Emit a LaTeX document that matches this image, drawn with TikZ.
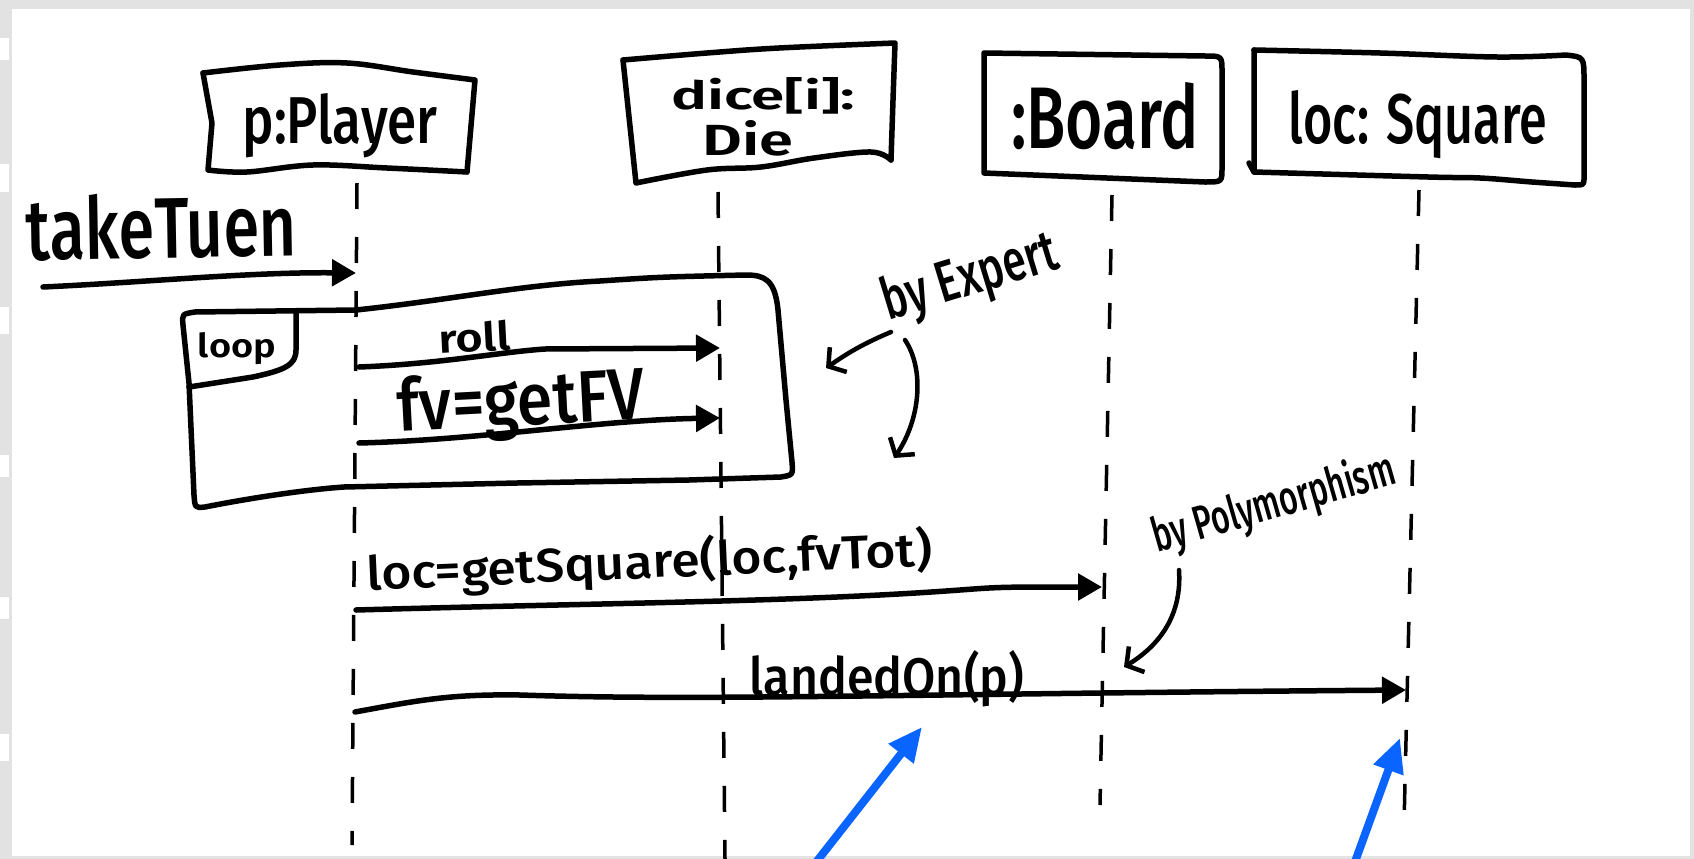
\documentclass[tikz,border=0pt]{standalone}
\usepackage{fontspec}
\usepackage{graphicx}
\usetikzlibrary{arrows.meta}
\newfontfamily\handfont{Fira Sans Medium}
\newfontfamily\handfontb{Fira Sans SemiBold}
\newcommand\hwtext[3]{\resizebox{#1pt}{#2pt}{\handfont #3}}
\newcommand\hwbold[3]{\resizebox{#1pt}{#2pt}{\handfontb #3}}
\definecolor{paperbg}{RGB}{226,226,226}
\definecolor{arrowblue}{RGB}{10,100,255}
\begin{document}
\begin{tikzpicture}[x=1pt,y=-1pt,
  hand/.style={line width=5.5pt,line cap=round,line join=round},
  msg/.style={hand,-{Triangle[length=24pt,width=26pt]}},
  notearrow/.style={line width=4.5pt,line cap=round,line join=round,-{Straight Barb[length=12pt,width=30pt]}},
  life/.style={line width=3.5pt,dash pattern=on 26pt off 28pt},
  bluearrow/.style={arrowblue,line width=8pt,-{Triangle[length=34pt,width=30pt]}},
  lbl/.style={inner sep=0pt,outer sep=0pt,anchor=base}]
\useasboundingbox (0,0) rectangle (1694,859);
% paper
\fill[paperbg] (0,0) rectangle (1694,859);
\fill[white] (12,9) rectangle (1690,856);
\foreach \ya/\yb in {38/60,164/192,307/334,455/477,597/619,734/761}
  \fill[white] (0,\ya) rectangle (9,\yb);

% lifelines
\coordinate (PLt) at (357,183); \coordinate (PLb) at (352,845);
\coordinate (DLt) at (718,192); \coordinate (DLb) at (725,859);
\coordinate (BLt) at (1112,195); \coordinate (BLb) at (1100,805);
\coordinate (SLt) at (1419,190); \coordinate (SLb) at (1404,825);
\draw[life] (PLt) -- (PLb);
\draw[life] (DLt) -- (DLb);
\draw[life] (BLt) -- (BLb);
\draw[life] (SLt) -- (SLb);

% participant boxes
\draw[hand] plot[smooth,tension=0.6] coordinates {(203,73) (280,65) (347,63) (413,72) (475,80)} -- (467,172);
\draw[hand] plot[smooth,tension=0.6] coordinates {(467,172) (387,168) (313,165) (247,172) (208,170)} -- (212,123) -- (203,73);

\draw[hand] plot[smooth,tension=0.6] coordinates {(623,60) (707,53) (779,48) (895,43)} -- (893,100) -- (891,160);
\draw[hand] plot[smooth,tension=0.6] coordinates {(891,160) (871,152) (814,158) (761,167) (707,170) (636,183)} -- (623,60);

\draw[hand] (984,53) -- (1205,56) .. controls (1222,56) .. (1222,72) -- (1222,168) .. controls (1222,182) .. (1205,182) -- (984,173) -- cycle;

\draw[hand] plot[smooth,tension=0.6] coordinates {(1254,50) (1380,53) (1497,57) (1566,55)} .. controls (1584,57) .. (1584,80) -- (1584,177) .. controls (1584,185) .. (1575,185);
\draw[hand] plot[smooth,tension=0.6] coordinates {(1575,185) (1532,182) (1480,178) (1428,177) (1254,172)} -- (1254,50);
\draw[hand] (1254,172) -- (1249,163);

\node[lbl] (player) at (340,143) {\hwtext{195}{50}{p:Player}};
\node[lbl] (dice) at (763,110) {\hwbold{184}{32}{dice[i]:}};
\node[lbl] (die) at (748,155) {\hwbold{91}{35}{Die}};
\node[lbl] (board) at (1105,148) {\hwtext{188}{66}{:Board}};
\node[lbl] (square) at (1418,143) {\hwtext{258}{53}{loc: Square}};

% found message
\coordinate (tt0) at (43,287); \coordinate (tt1) at (356,273);
\draw[msg] (tt0) .. controls (150,282) and (250,272) .. (tt1);
\node[lbl,rotate=1] (take) at (162,258) {\hwtext{270}{65}{takeTuen}};

% loop frame
\draw[hand] (195,312) -- (356,310) .. controls (450,300) and (520,285) .. (600,281)
  .. controls (660,277) .. (746,275) .. controls (765,275) and (775,280) .. (778,310)
  -- (786,400) -- (792,462) .. controls (793,475) .. (781,477) -- (689,480) -- (517,483) -- (344,487)
  .. controls (300,490) and (240,500) .. (205,507) .. controls (195,508) .. (194,495)
  -- (189,383) -- (183,325) .. controls (182,314) .. (195,312);
\draw[hand] (189,387) -- (253,377) .. controls (285,370) and (296,365) .. (296,350) -- (296,312);
\node[lbl] (loop) at (237,357) {\hwbold{78}{25}{loop}};

% messages
\coordinate (r0) at (359,367); \coordinate (r1) at (720,348);
\draw[msg] (r0) .. controls (440,364) and (500,352) .. (545,349) -- (r1);
\node[lbl,rotate=3] (roll) at (475,352) {\hwbold{72}{30}{roll}};

\coordinate (f0) at (359,443); \coordinate (f1) at (720,418);
\draw[msg] (f0) .. controls (480,440) and (600,420) .. (f1);
\node[lbl,rotate=3] (fv) at (522,425) {\hwtext{247}{55}{fv=getFV}};

\coordinate (g0) at (356,610); \coordinate (g1) at (1102,587);
\draw[msg] (g0) .. controls (600,603) and (800,602) .. (960,590) .. controls (1000,587) .. (g1);
\node[lbl,rotate=2.5] (gs) at (650,578) {\hwtext{566}{40}{loc=getSquare(loc,fvTot)}};

\coordinate (l0) at (355,712); \coordinate (l1) at (1406,690);
\draw[msg] (l0) .. controls (420,700) and (450,694) .. (520,695) .. controls (700,701) and (900,694) .. (l1);
\node[lbl] (landed) at (887,695) {\hwtext{274}{45}{landedOn(p)}};

% notes
\node[lbl,rotate=17] (expert) at (975,294) {\hwtext{180}{44}{by Expert}};
\coordinate (e1s) at (891,332); \coordinate (e1e) at (826,368);
\coordinate (e2s) at (905,340); \coordinate (e2e) at (894,458);
\draw[notearrow] (e1s) .. controls (860,345) and (845,355) .. (e1e);
\draw[notearrow] (e2s) .. controls (925,370) and (920,420) .. (e2e);

\node[lbl,rotate=16] (poly) at (1278,518) {\hwtext{250}{38}{by Polymorphism}};
\coordinate (p1s) at (1179,570); \coordinate (p1e) at (1124,667);
\draw[notearrow] (p1s) .. controls (1182,615) and (1160,645) .. (p1e);

% blue arrows
\coordinate (b1s) at (810,870); \coordinate (b1e) at (922,727);
\coordinate (b2s) at (1352,870); \coordinate (b2e) at (1400,738);
\draw[bluearrow] (b1s) -- (b1e);
\draw[bluearrow] (b2s) -- (b2e);
\end{tikzpicture}
\end{document}
